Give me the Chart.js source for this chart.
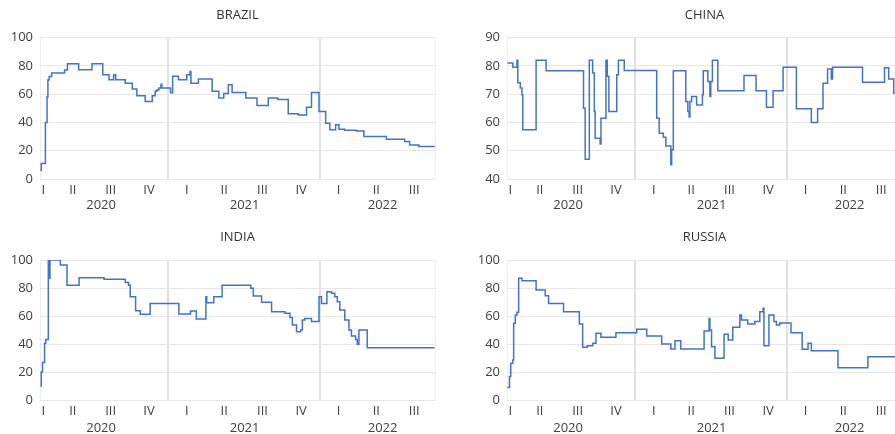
<!DOCTYPE html>
<html lang="en">
<head>
<meta charset="UTF-8">
<title>Stringency index</title>
<script src="https://cdn.jsdelivr.net/npm/chart.js"></script>
<style>
    body { margin: 0; background: #ffffff; }
    .page { position: relative; width: 895px; height: 434px; overflow: hidden; }
    .panel { position: absolute; width: 447px; height: 217px; }
</style>
</head>
<body>
<div class="page">
    <div class="panel" style="left:0;top:0"><canvas id="brazil" width="447" height="217"></canvas></div>
    <div class="panel" style="left:467px;top:0"><canvas id="china" width="447" height="217"></canvas></div>
    <div class="panel" style="left:0;top:217px"><canvas id="india" width="447" height="217"></canvas></div>
    <div class="panel" style="left:467px;top:217px"><canvas id="russia" width="447" height="217"></canvas></div>
</div>
<script>
// x values are days counted from 1 Jan 2020
const quarterDays = [66, 137, 228, 320, 411, 501, 593, 686, 776, 867, 958];
const quarterLabels = ['I', 'II', 'III', 'IV', 'I', 'II', 'III', 'IV', 'I', 'II', 'III'];
const yearDays = [205, 550, 882];
const yearLabels = ['2020', '2021', '2022'];
const yearBreaks = [366, 731];
const firstDay = 58;
const lastDay = 1008;

const brazilDays = [59, 61, 71, 75, 77, 80, 86, 117, 124, 151, 183, 209, 224, 235, 240, 263, 280, 291, 311, 328,
    335, 339, 344, 349, 351, 372, 377, 391, 411, 419, 421, 439, 472, 488, 500, 511, 520, 553, 580, 607,
    630, 655, 679, 699, 711, 729, 745, 755, 769, 777, 791, 819, 837, 891, 935, 947, 969, 1007];
const brazilValues = [6, 11, 40, 58, 70, 72.5, 75, 77, 81.5, 77.3, 81.5, 73.8, 70.2, 73.8, 70.2, 67.8, 63.6, 58.9, 54.8, 58.9,
    62, 63, 64.3, 67, 64.3, 61, 72.6, 70.2, 73.8, 76, 67.8, 70.7, 62, 57.2, 60.5, 66.7, 61.2, 57.2, 52, 57.2,
    56.2, 46.1, 45.2, 50.8, 61.2, 47.7, 39.5, 34.8, 38.3, 35.2, 34.5, 34, 30, 28.1, 26.5, 24.1, 22.9, 22.9];

const chinaDays = [59, 72, 82, 84, 90, 94, 96, 128, 152, 242, 246, 256, 264, 268, 270, 282, 284, 296, 299, 303,
    322, 326, 340, 418, 424, 434, 440, 452, 454, 458, 488, 493, 496, 498, 502, 514, 528, 530, 541, 546,
    548, 552, 565, 628, 657, 682, 698, 722, 754, 790, 805, 818, 829, 838, 841, 913, 966, 976, 988, 1007];
const chinaValues = [81, 79.5, 82, 74, 72.2, 69.8, 57.4, 82, 78.3, 65, 47, 82, 77.5, 63.9, 54.4, 52.4, 61.5, 82, 76.3, 63.9,
    76.9, 82, 78.4, 61.5, 56.2, 54.8, 51.7, 45, 50.3, 78.3, 67.4, 63.9, 61.9, 67.4, 69.2, 66.2, 69.8, 78.3, 74.5, 69.2,
    74.5, 82, 71.2, 76.6, 71.2, 65.4, 71.2, 79.5, 64.8, 60, 64.8, 73.9, 78.9, 75.4, 79.5, 74.2, 79.3, 75.4, 70.4, 70.4];

const indiaDays = [59, 61, 64, 69, 72, 78, 80, 82, 107, 123, 152, 212, 263, 271, 275, 288, 299, 323, 392, 420,
    434, 457, 459, 476, 496, 565, 571, 591, 615, 647, 659, 665, 675, 685, 689, 695, 711, 729, 735, 748,
    759, 767, 773, 779, 791, 801, 807, 817, 821, 825, 845, 1007];
const indiaValues = [10, 20, 26.7, 40.5, 43.3, 100, 87, 100, 96.4, 82, 87.4, 86.2, 84, 82, 73.8, 63.8, 61.2, 69, 61.4, 63.6,
    57.9, 73.8, 69.5, 73.8, 82, 79.8, 74.3, 69.8, 63.1, 61.9, 59, 53.6, 48.8, 50, 57.1, 58.3, 56, 73.8, 69, 77.4,
    76.2, 73.8, 70.2, 64.3, 57.1, 50, 45.7, 43.3, 39.8, 50, 37.4, 37.4];

const russiaDays = [59, 64, 67, 72, 74, 78, 82, 86, 94, 128, 150, 158, 194, 232, 240, 251, 264, 272, 284, 320,
    370, 394, 430, 452, 462, 476, 532, 544, 546, 550, 558, 580, 590, 601, 618, 622, 637, 654, 666, 674,
    676, 688, 700, 706, 714, 741, 768, 782, 790, 854, 926, 1007];
const russiaValues = [9, 16.7, 26.2, 28.6, 54.8, 60.7, 62.6, 86.9, 85.2, 78.6, 74.5, 69, 63.1, 54.3, 37.6, 38.8, 40.5, 47.6, 44.8, 48.1,
    50.5, 45.7, 40, 36.4, 42.4, 36.4, 49.3, 58.3, 50, 38, 29.8, 46.9, 42.9, 51.9, 60.7, 57.1, 54.3, 56, 63.1, 65.5,
    38.8, 60.7, 56, 53.6, 55, 48.1, 36.2, 40.5, 35.2, 23.1, 30.9, 30.9];

const textColor = '#404040';
const font13 = { family: "'Open Sans', sans-serif", size: 13 };

// Year axis carries the year labels and the vertical year separators
const yearTicks = [firstDay, yearDays[0], yearBreaks[0], yearDays[1], yearBreaks[1], yearDays[2], lastDay];

function yearGridColor(ctx) {
    const v = ctx.tick ? ctx.tick.value : null;
    if (yearBreaks.includes(v)) return '#e0e0e0';
    if (v === firstDay || v === lastDay) return '#efefef';
    return 'rgba(0,0,0,0)';
}

function makePanel(id, title, days, values, yMin, yMax, yStep, top) {
    const titleTop = top ? 7 : 12;
    new Chart(document.getElementById(id), {
        type: 'line',
        data: {
            datasets: [{
                data: days.map((d, i) => ({ x: d, y: values[i] })),
                borderColor: '#4472C4',
                borderWidth: 1.5,
                pointRadius: 0,
                stepped: true,
                fill: false
            }]
        },
        options: {
            responsive: false,
            animation: false,
            layout: { padding: { left: 0, right: 12, top: 0, bottom: 0 } },
            plugins: {
                legend: { display: false },
                tooltip: { enabled: false },
                title: {
                    display: true,
                    text: title,
                    color: '#333333',
                    fullSize: false,
                    font: { family: "'Open Sans', sans-serif", size: 13, weight: 'normal' },
                    padding: { top: titleTop, bottom: top ? 15 : 15.4 }
                }
            },
            scales: {
                x: {
                    type: 'linear',
                    position: 'bottom',
                    weight: 0,
                    min: firstDay,
                    max: lastDay,
                    afterBuildTicks: s => { s.ticks = quarterDays.map(v => ({ value: v })); },
                    afterFit: s => { s.height = 16; },
                    grid: { display: false, drawTicks: false },
                    border: { display: false },
                    ticks: {
                        autoSkip: false, maxRotation: 0, minRotation: 0, padding: 3,
                        color: textColor, font: font13,
                        callback: (v, i) => quarterLabels[i]
                    }
                },
                year: {
                    type: 'linear',
                    position: 'bottom',
                    axis: 'x',
                    weight: 1,
                    min: firstDay,
                    max: lastDay,
                    afterBuildTicks: s => { s.ticks = yearTicks.map(v => ({ value: v })); },
                    afterFit: s => { s.height = top ? 22 : 18; },
                    grid: {
                        drawTicks: false,
                        color: yearGridColor,
                        lineWidth: ctx => (ctx.tick && yearBreaks.includes(ctx.tick.value)) ? 2 : 1
                    },
                    border: { display: false },
                    ticks: {
                        autoSkip: false, maxRotation: 0, minRotation: 0, padding: top ? 2 : 4,
                        color: textColor, font: font13,
                        callback: v => {
                            const k = yearDays.indexOf(v);
                            return k >= 0 ? yearLabels[k] : '';
                        }
                    }
                },
                y: {
                    min: yMin,
                    max: yMax,
                    afterFit: s => { s.width = 40; },
                    grid: { color: '#e6e6e6', drawTicks: false },
                    border: { display: false },
                    ticks: { stepSize: yStep, padding: 7, color: textColor, font: font13 }
                }
            }
        }
    });
}

makePanel('brazil', 'BRAZIL', brazilDays, brazilValues, 0, 100, 20, true);
makePanel('china', 'CHINA', chinaDays, chinaValues, 40, 90, 10, true);
makePanel('india', 'INDIA', indiaDays, indiaValues, 0, 100, 20, false);
makePanel('russia', 'RUSSIA', russiaDays, russiaValues, 0, 100, 20, false);
</script>
</body>
</html>
